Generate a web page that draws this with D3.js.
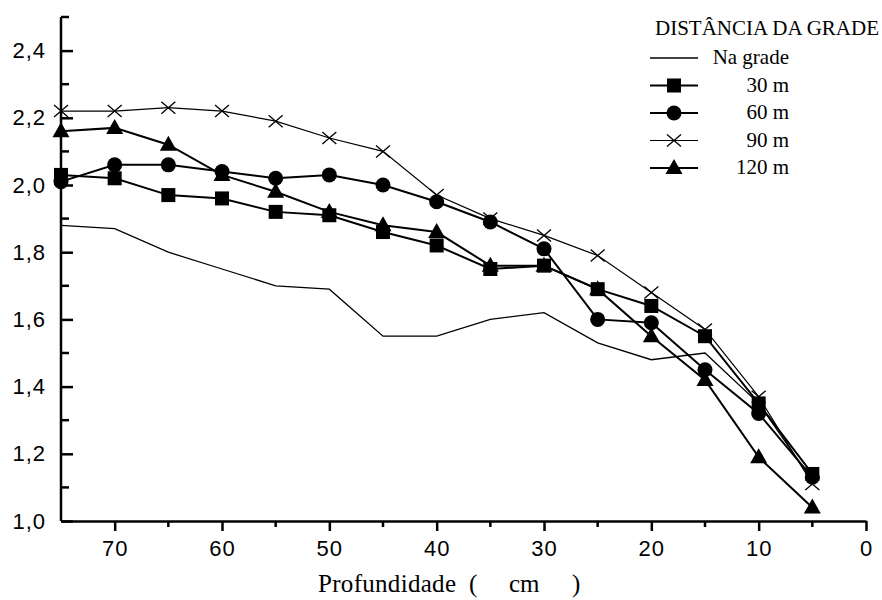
<!DOCTYPE html>
<html>
    <head>
        <meta charset="utf-8">
        <script src="https://d3js.org/d3.v7.min.js"></script>
        <style>
            body { margin: 0; background: #fff; }
            svg { display: block; }
            .axis path, .axis line { stroke: #000; stroke-width: 2.5; }
            .axis text { font-family: "Liberation Sans", Arial, sans-serif; font-size: 22px; fill: #000; letter-spacing: 1px; }
            .serif { font-family: "Liberation Serif", "Times New Roman", serif; fill: #000; }
        </style>
    </head>
    <body>
        <svg width="882" height="600">
            <g class="data"></g>
            <g class="axis x-axis"></g>
            <g class="axis y-axis"></g>
            <g class="legend"></g>
        </svg>

        <script>
            // profundidade (cm)
            var depths = [75, 70, 65, 60, 55, 50, 45, 40, 35, 30, 25, 20, 15, 10, 5];

            var naGrade = [1.88, 1.87, 1.80, 1.75, 1.70, 1.69, 1.55, 1.55, 1.60, 1.62, 1.53, 1.48, 1.50, 1.35, 1.12];
            var m30  = [2.03, 2.02, 1.97, 1.96, 1.92, 1.91, 1.86, 1.82, 1.75, 1.76, 1.69, 1.64, 1.55, 1.35, 1.14];
            var m60  = [2.01, 2.06, 2.06, 2.04, 2.02, 2.03, 2.00, 1.95, 1.89, 1.81, 1.60, 1.59, 1.45, 1.32, 1.13];
            var m90  = [2.22, 2.22, 2.23, 2.22, 2.19, 2.14, 2.10, 1.97, 1.90, 1.85, 1.79, 1.68, 1.57, 1.37, 1.11];
            var m120 = [2.16, 2.17, 2.12, 2.03, 1.98, 1.92, 1.88, 1.86, 1.76, 1.76, 1.69, 1.55, 1.42, 1.19, 1.04];

            var xMajor = [70, 60, 50, 40, 30, 20, 10, 0];
            var xMinor = [65, 55, 45, 35, 25, 15, 5];
            var yMajor = [1.0, 1.2, 1.4, 1.6, 1.8, 2.0, 2.2, 2.4];
            var yMinor = [1.1, 1.3, 1.5, 1.7, 1.9, 2.1, 2.3, 2.5];

            var series = [
                { name: 'Na grade', values: naGrade, marker: null,       width: 1.3 },
                { name: '30 m',     values: m30,     marker: 'square',   width: 2 },
                { name: '60 m',     values: m60,     marker: 'circle',   width: 2 },
                { name: '90 m',     values: m90,     marker: 'cross',    width: 1.2 },
                { name: '120 m',    values: m120,    marker: 'triangle', width: 2 }
            ];

            var root = d3.select('svg');
            var L = 61, R = 16, T = 17, B = 79;
            var W = +root.attr('width'), H = +root.attr('height');

            var x = d3.scaleLinear().domain([75, 0]).range([L, W - R]);
            var y = d3.scaleLinear().domain([1.0, 2.5]).range([H - B, T]);

            var comma = function (d) { return d3.format('.1f')(d).replace('.', ','); };

            // eixo x: ticks maiores com rotulo, menores sem
            var gx = root.select('.x-axis').attr('transform', 'translate(0,' + (H - B) + ')');
            gx.call(d3.axisBottom(x).tickValues(xMajor).tickSize(10).tickSizeOuter(0).tickPadding(9).tickFormat(d3.format('d')));
            gx.selectAll('.minor').data(xMinor).enter().append('line')
                .attr('class', 'minor')
                .attr('x1', function (d) { return x(d); })
                .attr('x2', function (d) { return x(d); })
                .attr('y1', 0).attr('y2', 6);

            // eixo y: ticks para dentro
            var gy = root.select('.y-axis').attr('transform', 'translate(' + L + ',0)');
            gy.call(d3.axisLeft(y).tickValues(yMajor).tickSize(-12).tickSizeOuter(0).tickPadding(15).tickFormat(comma));
            gy.selectAll('.minor').data(yMinor).enter().append('line')
                .attr('class', 'minor')
                .attr('x1', 0).attr('x2', 8)
                .attr('y1', function (d) { return y(d); })
                .attr('y2', function (d) { return y(d); });
            gy.select('.domain').attr('d', 'M0,' + y(2.5) + 'V' + y(1.0));

            var line = d3.line()
                .x(function (d) { return x(d[0]); })
                .y(function (d) { return y(d[1]); });

            function drawMarker(g, type, cx, cy) {
                if (type === 'square') {
                    g.append('rect').attr('x', cx - 7).attr('y', cy - 7).attr('width', 14).attr('height', 14).attr('fill', '#000');
                } else if (type === 'circle') {
                    g.append('circle').attr('cx', cx).attr('cy', cy).attr('r', 7.5).attr('fill', '#000');
                } else if (type === 'triangle') {
                    g.append('path').attr('d', 'M' + cx + ',' + (cy - 9) + 'L' + (cx + 8.5) + ',' + (cy + 6) + 'L' + (cx - 8.5) + ',' + (cy + 6) + 'Z').attr('fill', '#000');
                } else if (type === 'cross') {
                    g.append('path').attr('d', 'M' + (cx - 7) + ',' + (cy - 6) + 'L' + (cx + 7) + ',' + (cy + 6) + 'M' + (cx + 7) + ',' + (cy - 6) + 'L' + (cx - 7) + ',' + (cy + 6))
                        .attr('stroke', '#000').attr('stroke-width', 1.3).attr('fill', 'none');
                }
            }

            var dataG = root.select('.data');
            series.forEach(function (s) {
                var pts = depths.map(function (d, i) { return [d, s.values[i]]; });
                dataG.append('path')
                    .attr('d', line(pts))
                    .attr('fill', 'none')
                    .attr('stroke', '#000')
                    .attr('stroke-width', s.width);
                if (s.marker) {
                    var mg = dataG.append('g');
                    pts.forEach(function (p) { drawMarker(mg, s.marker, x(p[0]), y(p[1])); });
                }
            });

            // titulo do eixo x (espacamento largo como no original)
            var xt = root.append('text')
                .attr('class', 'serif')
                .attr('y', 592)
                .style('font-size', '25px');
            xt.append('tspan').attr('x', 318).attr('textLength', 138).text('Profundidade');
            xt.append('tspan').attr('x', 469).text('(');
            xt.append('tspan').attr('x', 509).text('cm');
            xt.append('tspan').attr('x', 572).text(')');

            // legenda
            var leg = root.select('.legend');
            leg.append('text').attr('class', 'serif')
                .attr('x', 879).attr('y', 35)
                .attr('text-anchor', 'end')
                .style('font-size', '21px')
                .text('DISTÂNCIA DA GRADE');
            series.forEach(function (s, i) {
                var ly = 58 + i * 27.5;
                leg.append('line')
                    .attr('x1', 650).attr('x2', 698)
                    .attr('y1', ly).attr('y2', ly)
                    .attr('stroke', '#000').attr('stroke-width', s.width);
                if (s.marker) drawMarker(leg, s.marker, 674, ly);
                leg.append('text').attr('class', 'serif')
                    .attr('x', 789).attr('y', ly + 6)
                    .attr('text-anchor', 'end')
                    .style('font-size', '21px')
                    .text(s.name);
            });
        </script>
    </body>
</html>
